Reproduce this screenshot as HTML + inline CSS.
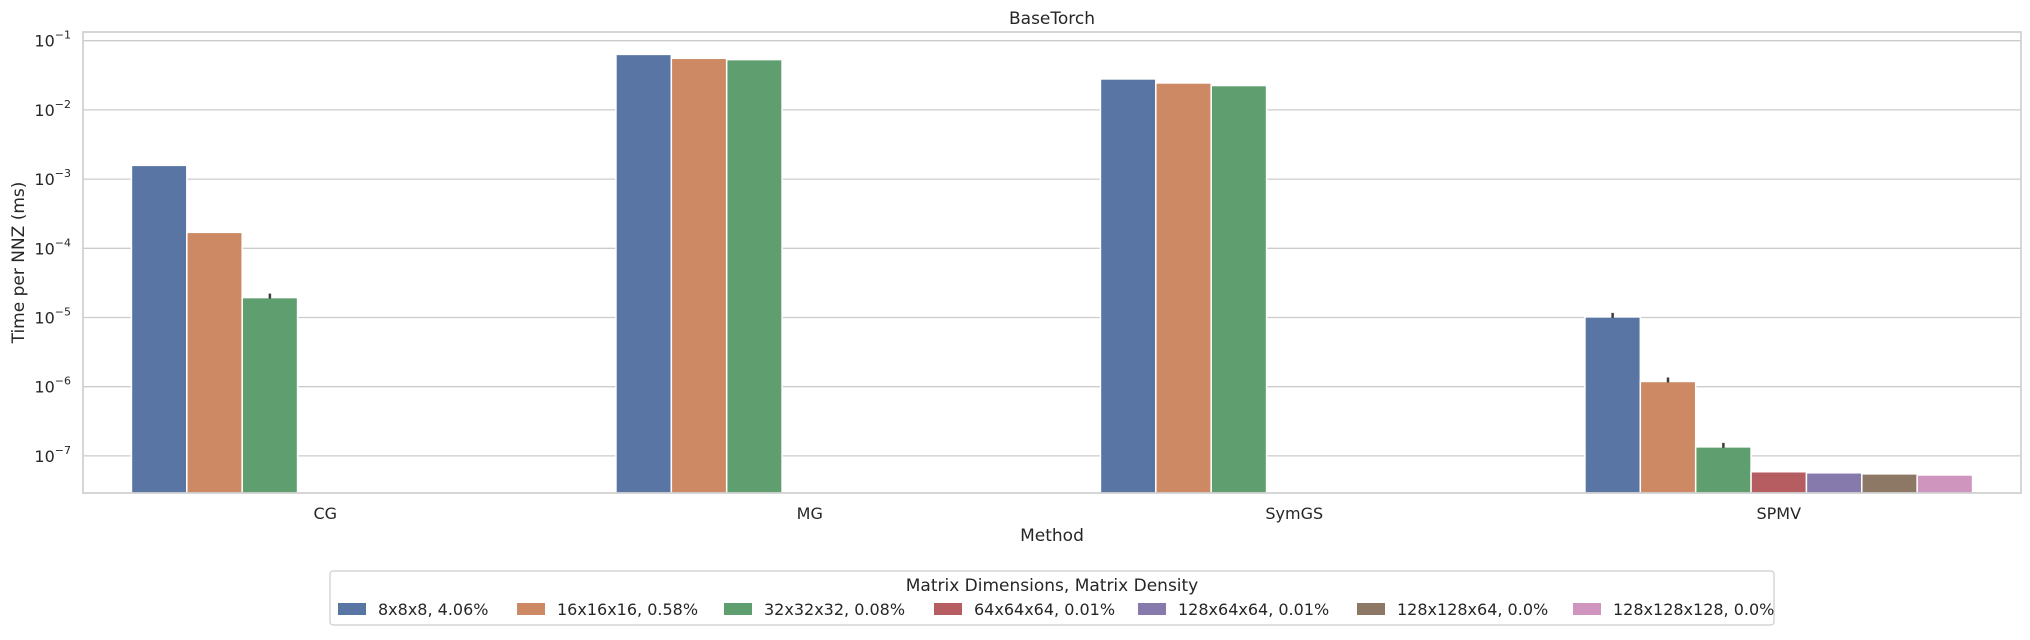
<!DOCTYPE html>
<html><head><meta charset="utf-8"><style>
body{margin:0;background:#fff;width:2030px;height:635px;overflow:hidden;font-family:"Liberation Sans","DejaVu Sans",sans-serif;}
svg text{font-family:"DejaVu Sans","Liberation Sans",sans-serif;fill:#262626;}
</style></head><body>
<svg id="chart" width="2030" height="635" xmlns="http://www.w3.org/2000/svg"></svg>
<script>
const methods=["CG","MG","SymGS","SPMV"];
const seriesLabels=["8x8x8, 4.06%","16x16x16, 0.58%","32x32x32, 0.08%","64x64x64, 0.01%","128x64x64, 0.01%","128x128x64, 0.0%","128x128x128, 0.0%"];
const colors=["#5875a4","#cc8963","#5f9e6e","#b55d60","#857aab","#8d7866","#d095bf"];
const valCG=[1.58e-3,1.70e-4,1.94e-5,null,null,null,null];
const valMG=[0.0634,0.0557,0.0533,null,null,null,null];
const valSymGS=[0.028,0.0245,0.0225,null,null,null,null];
const valSPMV=[1.02e-5,1.19e-6,1.35e-7,5.9e-8,5.7e-8,5.5e-8,5.3e-8];
const errCG=[false,false,true,false,false,false,false];
const errSPMV=[true,true,true,false,false,false,false];
const yTickExp=[-1,-2,-3,-4,-5,-6,-7];

const NS="http://www.w3.org/2000/svg";
const svg=document.getElementById('chart');
const L=83,R=2021,T=32,B=493;
const top1=40.7,dec=69.2;
function y(v){return top1+(-1-Math.log10(v))*dec;}
const gw=(R-L)/methods.length,bw=gw*0.8/7;
function gx(i){return L+gw*(i+0.5);}
function mk(tag,attrs){const e=document.createElementNS(NS,tag);for(const k in attrs)e.setAttribute(k,attrs[k]);svg.appendChild(e);return e;}

const bg=mk('rect',{x:L,y:T,width:R-L,height:B-T,fill:'#fff'});


yTickExp.forEach(e=>{
  const yy=y(Math.pow(10,e));
  const g=mk('line',{x1:L,x2:R,y1:yy,y2:yy,stroke:'#cccccc','stroke-width':1.3});
  
  
  const t=mk('text',{x:L-12,y:yy+6,'text-anchor':'end','font-size':16});
  t.innerHTML='10<tspan dy="-8" font-size="11">−'+(-e)+'</tspan>';
  
  
});
const allVals=[valCG,valMG,valSymGS,valSPMV];
const allErr=[errCG,[],[],errSPMV];
allVals.forEach((vals,gi)=>{
  vals.forEach((v,si)=>{
    if(v==null)return;
    const x0=gx(gi)-3.5*bw+si*bw;
    const r=mk('rect',{x:x0,y:y(v),width:bw,height:B-y(v),fill:colors[si],stroke:'#fff','stroke-width':1.5});
    
    
    if(allErr[gi][si]){
      const l=mk('line',{x1:x0+bw/2,x2:x0+bw/2,y1:y(v)-4,y2:y(v)+1,stroke:'#3d3d3d','stroke-width':2.5});
      
      
    }
  });
  const t=mk('text',{x:gx(gi),y:519,'text-anchor':'middle','font-size':16});
  t.textContent=methods[gi];
  
  
});
const fr=mk('rect',{x:L,y:T,width:R-L,height:B-T,fill:'none',stroke:'#cccccc','stroke-width':1.6});


let t=mk('text',{x:(L+R)/2,y:24,'text-anchor':'middle','font-size':17});t.textContent='BaseTorch';


t=mk('text',{x:(L+R)/2,y:541,'text-anchor':'middle','font-size':17});t.textContent='Method';


t=mk('text',{x:24,y:(T+B)/2,'text-anchor':'middle','font-size':17,transform:'rotate(-90 24 '+((T+B)/2)+')'});t.textContent='Time per NNZ (ms)';


// legend
const lb=mk('rect',{x:330,y:571,width:1444,height:54,rx:3,fill:'#fff',stroke:'#cccccc','stroke-width':1.2});


t=mk('text',{x:1052,y:591,'text-anchor':'middle','font-size':17});t.textContent='Matrix Dimensions, Matrix Density';


const px=[338,517,724,934,1138,1357,1573];
seriesLabels.forEach((s,i)=>{
  const p=mk('rect',{x:px[i],y:603,width:28,height:12,fill:colors[i]});
  
  
  const tt=mk('text',{x:px[i]+40,y:615,'font-size':16});tt.textContent=s;
  
  
});
</script>
</body></html>
